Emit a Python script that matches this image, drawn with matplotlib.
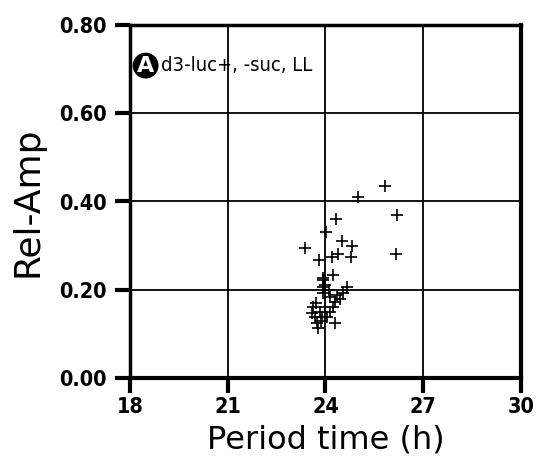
import matplotlib
matplotlib.use("Agg")
import matplotlib.pyplot as plt

period = [25.83, 25.0, 26.19, 26.15, 24.32, 24.02, 23.37, 23.80, 24.5, 24.81, 24.78,
          24.38, 24.2, 24.23, 23.93, 24.0, 24.65, 24.54, 24.35, 24.14, 23.93, 24.3,
          24.23, 24.3, 24.14, 23.62, 23.68, 23.74, 23.83, 23.77, 23.89, 24.0, 24.05,
          23.6, 23.93, 23.93, 24.1, 23.7, 23.85, 24.45]
rel_amp = [0.434, 0.411, 0.37, 0.28, 0.361, 0.332, 0.295, 0.268, 0.311, 0.30, 0.275,
           0.28, 0.275, 0.234, 0.227, 0.211, 0.207, 0.193, 0.189, 0.184, 0.193, 0.173,
           0.161, 0.125, 0.15, 0.161, 0.139, 0.125, 0.15, 0.114, 0.139, 0.161, 0.139,
           0.147, 0.207, 0.222, 0.20, 0.17, 0.13, 0.18]

x_ticks = [18, 21, 24, 27, 30]
y_ticks = [0.0, 0.2, 0.4, 0.6, 0.8]
y_labels = ["0.00", "0.20", "0.40", "0.60", "0.80"]

fig = plt.figure(figsize=(5.36, 4.73), dpi=100)
ax = fig.add_axes([130/536, 1-378/473, (521-130)/536, (378-25)/473])
ax.set_xlim(18, 30)
ax.set_ylim(0, 0.8)
ax.tick_params(direction="out", length=11, width=3, labelsize=15.5)
ax.tick_params(axis="y", pad=6)
ax.tick_params(axis="x", pad=3)
ax.set_xticks(x_ticks)
ax.set_xticklabels([str(t) for t in x_ticks], family="DejaVu Sans",
                   fontweight="bold", fontstretch="condensed", fontsize=15.5)
ax.set_yticks(y_ticks)
ax.set_yticklabels(y_labels, family="DejaVu Sans",
                   fontweight="bold", fontstretch="condensed", fontsize=15.5)
ax.grid(True, color="black", linewidth=1.3)
ax.set_axisbelow(True)
ax.spines["left"].set_linewidth(2.5)
ax.spines["bottom"].set_linewidth(3)
ax.spines["right"].set_linewidth(3)
ax.spines["top"].set_linewidth(2.5)

ax.plot(period, rel_amp, linestyle="none", marker="+", markersize=8,
        markeredgewidth=1.2, color="black", clip_on=False)

ax.set_xlabel("Period time (h)", fontsize=23, labelpad=5, family="DejaVu Sans")
ax.set_ylabel("Rel-Amp", fontsize=26, labelpad=10, family="DejaVu Sans")

ax.text(0.04, 0.885, "A", transform=ax.transAxes, fontsize=16, fontweight="bold",
        family="DejaVu Sans", color="white", ha="center", va="center",
        bbox=dict(boxstyle="circle,pad=0.1", fc="black", ec="black"))
ax.text(0.08, 0.885, "d3-luc+, -suc, LL", transform=ax.transAxes, fontsize=14.5,
        family="DejaVu Sans", fontweight="normal", fontstretch="condensed",
        ha="left", va="center")

fig.savefig("out.png", dpi=100)
